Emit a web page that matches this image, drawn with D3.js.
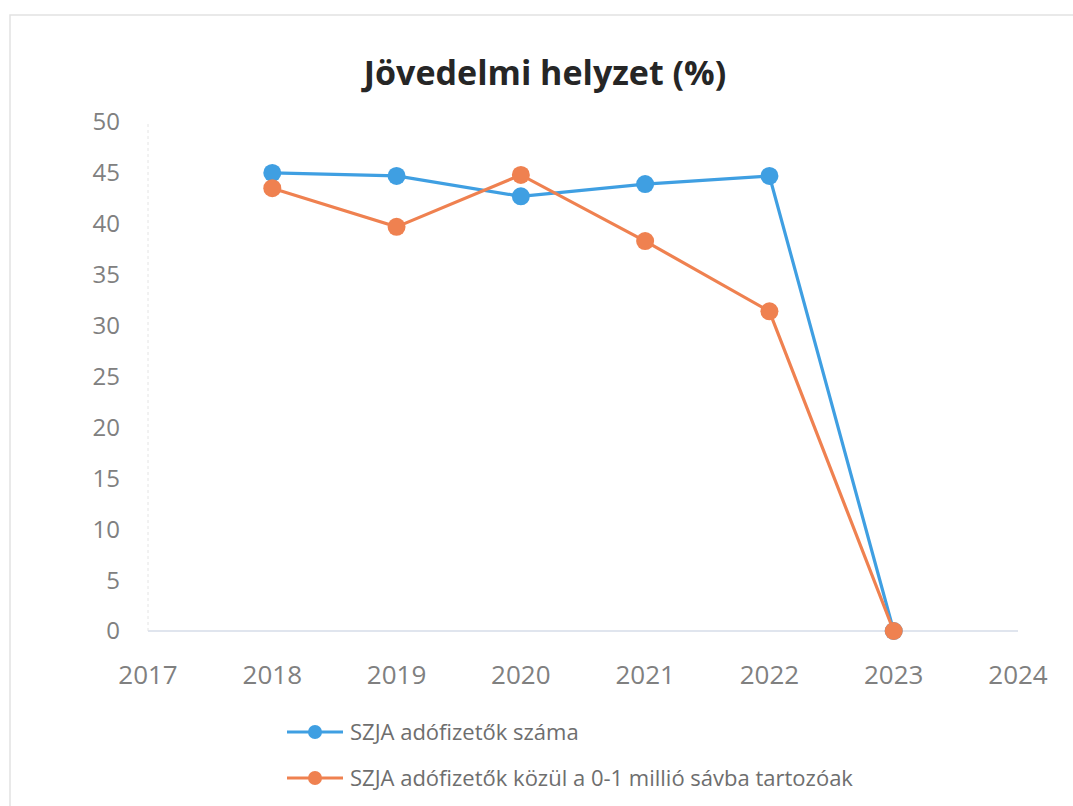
<!DOCTYPE html>
<html>
<head>
<meta charset="utf-8">
<script src="https://cdn.jsdelivr.net/npm/d3@7"></script>
<style>
  body { margin: 0; background: #fff; }
  svg { display: block; font-family: "Open Sans", "Liberation Sans", sans-serif; }
</style>
</head>
<body>
<svg width="1073" height="806"></svg>
<script>
const years = [2018, 2019, 2020, 2021, 2022, 2023];
const yTicks = [0, 5, 10, 15, 20, 25, 30, 35, 40, 45, 50];
const xTicks = [2017, 2018, 2019, 2020, 2021, 2022, 2023, 2024];
const szjaCount = [45.0, 44.7, 42.7, 43.9, 44.7, 0];
const szjaLowBand = [43.5, 39.7, 44.8, 38.3, 31.4, 0];
const seriesNames = ["SZJA adófizetők száma", "SZJA adófizetők közül a 0-1 millió sávba tartozóak"];
const seriesColors = ["#3f9fe2", "#ef8150"];

const svg = d3.select("svg");

// faint chart-area border of the scan
svg.append("rect")
  .attr("x", 10).attr("y", 15).attr("width", 1080).attr("height", 820)
  .attr("fill", "none").attr("stroke", "#e2e2e2").attr("stroke-width", 1.5);

const x = d3.scaleLinear().domain([2017, 2024]).range([148, 1018]);
const y = d3.scaleLinear().domain([0, 50]).range([631, 122]);

svg.append("text")
  .attr("x", 545).attr("y", 85)
  .attr("text-anchor", "middle")
  .attr("font-size", 34).attr("font-weight", "bold")
  .attr("fill", "#262626")
  .text("Jövedelmi helyzet (%)");

// y axis labels
svg.append("g")
  .selectAll("text")
  .data(yTicks)
  .enter()
  .append("text")
  .attr("x", 120)
  .attr("y", (d) => y(d))
  .attr("dy", "0.35em")
  .attr("text-anchor", "end")
  .attr("font-size", 24)
  .attr("fill", "#808080")
  .text((d) => d);

// x axis labels
svg.append("g")
  .selectAll("text")
  .data(xTicks)
  .enter()
  .append("text")
  .attr("x", (d) => x(d))
  .attr("y", 684)
  .attr("text-anchor", "middle")
  .attr("font-size", 26)
  .attr("fill", "#808080")
  .text((d) => d);

// axis lines
svg.append("line")
  .attr("x1", x(2017)).attr("x2", x(2024))
  .attr("y1", y(0)).attr("y2", y(0))
  .attr("stroke", "#d6dce8").attr("stroke-width", 1.5);
svg.append("line")
  .attr("x1", x(2017)).attr("x2", x(2017))
  .attr("y1", y(0)).attr("y2", y(50))
  .attr("stroke", "#e4e4e4").attr("stroke-width", 1)
  .attr("stroke-dasharray", "3,3");

const line = d3.line().x((d) => x(d[0])).y((d) => y(d[1]));

[szjaCount, szjaLowBand].forEach((vals, i) => {
  const pts = years.map((yr, j) => [yr, vals[j]]);
  const g = svg.append("g");
  g.append("path")
    .datum(pts)
    .attr("d", line)
    .attr("fill", "none")
    .attr("stroke", seriesColors[i])
    .attr("stroke-width", 3.2);
  g.selectAll("circle")
    .data(pts)
    .enter()
    .append("circle")
    .attr("cx", (d) => x(d[0]))
    .attr("cy", (d) => y(d[1]))
    .attr("r", 9)
    .attr("fill", seriesColors[i]);
});

// legend
const legend = svg.append("g")
  .selectAll("g")
  .data(seriesNames)
  .enter()
  .append("g")
  .attr("transform", (d, i) => `translate(287, ${732 + i * 46})`);
legend.append("line")
  .attr("x1", 0).attr("x2", 56)
  .attr("stroke", (d, i) => seriesColors[i])
  .attr("stroke-width", 3);
legend.append("circle")
  .attr("cx", 28).attr("r", 7)
  .attr("fill", (d, i) => seriesColors[i]);
legend.append("text")
  .attr("x", 63).attr("dy", "0.35em")
  .attr("font-size", 22)
  .attr("fill", "#6e6e6e")
  .text((d) => d);
</script>
</body>
</html>
